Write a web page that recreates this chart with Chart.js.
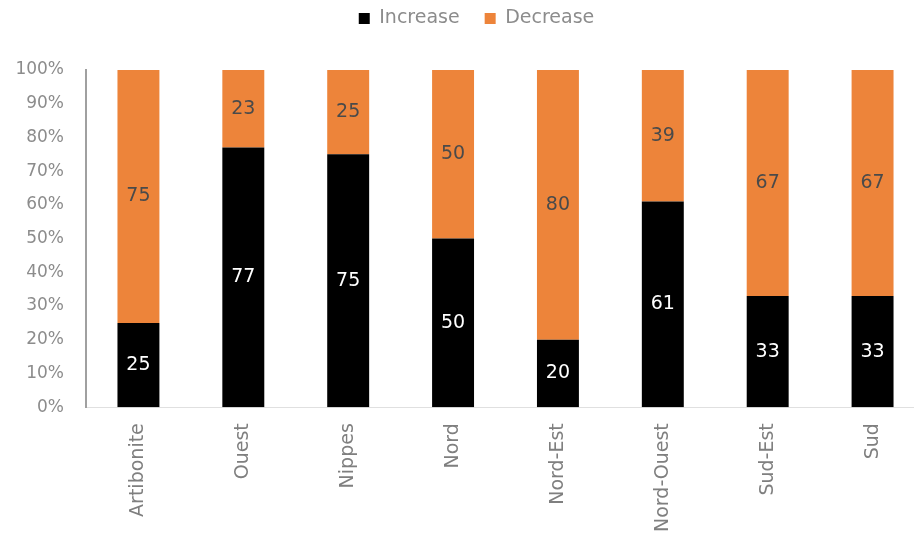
<!DOCTYPE html>
<html><head><meta charset="utf-8">
<script src="https://cdn.jsdelivr.net/npm/chart.js@4/dist/chart.umd.min.js"></script>
<style>html,body{margin:0;padding:0;background:#fff;overflow:hidden}#wrap{width:941px;height:539px}</style>
</head><body><div id="wrap"><canvas id="c" width="941" height="539"></canvas></div>
<script>
const categories = ["Artibonite","Ouest","Nippes","Nord","Nord-Est","Nord-Ouest","Sud-Est","Sud"];
const increaseValues = [25,77,75,50,20,61,33,33];
const decreaseValues = [75,23,25,50,80,39,67,67];
const seriesNames = ["Increase","Decrease"];

const FONT = '"DejaVu Sans", sans-serif';

const labelPlugin = {
  id:'barLabels',
  afterDatasetsDraw(chart){
    const ctx = chart.ctx;
    ctx.save();
    ctx.font = '19px ' + FONT;
    ctx.textAlign = 'center';
    ctx.textBaseline = 'middle';
    chart.data.datasets.forEach((ds, di) => {
      const meta = chart.getDatasetMeta(di);
      meta.data.forEach((bar, i) => {
        const y = (bar.y + bar.base) / 2;
        ctx.fillStyle = di === 0 ? '#ffffff' : '#4a4a4a';
        ctx.fillText(String(ds.data[i]), bar.x, y);
      });
    });
    ctx.restore();
  }
};

const legendSpace = {
  id:'legendSpace',
  beforeInit(chart){
    const lg = chart.legend;
    const orig = lg.fit;
    lg.fit = function(){ orig.call(this); this.height = 86; };
  },
  afterLayout(chart){
    chart.legend.left += 8;
    chart.legend.right += 8;
  }
};

new Chart(document.getElementById('c'), {
  type:'bar',
  data:{
    labels: categories,
    datasets:[
      {label: seriesNames[0], data: increaseValues, backgroundColor:'#000000', categoryPercentage:1, barPercentage:0.4},
      {label: seriesNames[1], data: decreaseValues, backgroundColor:'#ED843A', categoryPercentage:1, barPercentage:0.4}
    ]
  },
  options:{
    responsive:false,
    animation:false,
    layout:{padding:{top:-16,left:12,right:16,bottom:-9}},
    plugins:{
      legend:{
        position:'top',
        labels:{boxWidth:11,boxHeight:11,color:'#8c8c8c',font:{size:19,family:FONT},padding:25}
      },
      tooltip:{enabled:false}
    },
    scales:{
      x:{
        stacked:true,
        grid:{display:false,drawTicks:false},
        border:{display:true,color:'#e0e0e0'},
        ticks:{color:'#7f7f7f',font:{size:19,family:FONT},minRotation:90,maxRotation:90,padding:16,autoSkip:false},
        afterFit(scale){ scale.paddingLeft = 0; scale.paddingRight = 0; }
      },
      y:{
        stacked:true,
        min:0,max:100,
        grid:{display:false,drawTicks:false},
        border:{display:true,color:'#a0a0a0',width:2},
        ticks:{stepSize:10,color:'#8c8c8c',padding:22,font:{size:17,family:FONT},callback:v=>v+'%'},
        afterFit(scale){ scale.width = 74; }
      }
    }
  },
  plugins:[labelPlugin, legendSpace]
});
</script></body></html>
